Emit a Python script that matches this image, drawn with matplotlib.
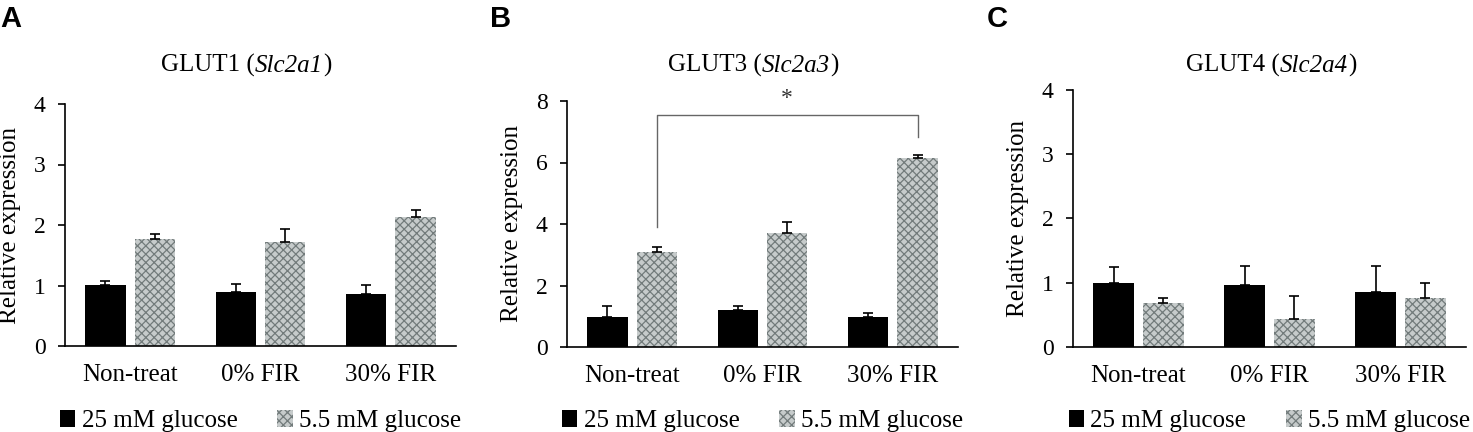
import numpy as np
import matplotlib
matplotlib.use('Agg')
import matplotlib.pyplot as plt

plt.rcParams['font.family'] = 'Liberation Serif'
plt.rcParams['hatch.linewidth'] = 0.9

groups = ['Non-treat', '0% FIR', '30% FIR']
series = ['25 mM glucose', '5.5 mM glucose']

# GLUT1 (Slc2a1)
glut1_high = [1.01, 0.90, 0.86]
glut1_high_err = [0.07, 0.12, 0.15]
glut1_low = [1.77, 1.72, 2.14]
glut1_low_err = [0.08, 0.21, 0.10]

# GLUT3 (Slc2a3)
glut3_high = [0.99, 1.20, 0.99]
glut3_high_err = [0.33, 0.12, 0.11]
glut3_low = [3.08, 3.70, 6.15]
glut3_low_err = [0.16, 0.38, 0.09]

# GLUT4 (Slc2a4)
glut4_high = [0.99, 0.97, 0.85]
glut4_high_err = [0.25, 0.29, 0.41]
glut4_low = [0.68, 0.44, 0.77]
glut4_low_err = [0.09, 0.36, 0.22]

panels = [
    ('A', 'GLUT1', 'Slc2a1', glut1_high, glut1_high_err, glut1_low, glut1_low_err, 4, [0, 1, 2, 3, 4]),
    ('B', 'GLUT3', 'Slc2a3', glut3_high, glut3_high_err, glut3_low, glut3_low_err, 8, [0, 2, 4, 6, 8]),
    ('C', 'GLUT4', 'Slc2a4', glut4_high, glut4_high_err, glut4_low, glut4_low_err, 4, [0, 1, 2, 3, 4]),
]

W, H = 1473, 432
fig = plt.figure(figsize=(W / 100, H / 100), dpi=100)

# axes boxes in pixels: left, right, bottom, top
boxes = [(65, 456, 346, 104), (567, 958, 347, 101), (1073, 1466, 347, 90)]
letter_x = [0, 490, 987]
title_cx = [246, 753, 1271]

x = np.arange(len(groups))
off = 0.19
bw = 0.31
title_parts = []

for i, (letter, prot, gene, hi, hi_err, lo, lo_err, ymax, yt) in enumerate(panels):
    l, r, b, t = boxes[i]
    ax = fig.add_axes([l / W, 1 - b / H, (r - l) / W, (b - t) / H])
    ax.bar(x - off, hi, bw, color='black', label=series[0], zorder=2)
    ax.bar(x + off, lo, bw, color='#c6cbcb', edgecolor='#727b7b', hatch='xxxx',
           linewidth=0, label=series[1], zorder=2)
    ax.errorbar(x - off, hi, yerr=[np.zeros(3), hi_err], fmt='none', ecolor='black',
                elinewidth=1.2, capsize=3.3, capthick=1.2, zorder=3)
    ax.errorbar(x + off, lo, yerr=[np.zeros(3), lo_err], fmt='none', ecolor='black',
                elinewidth=1.2, capsize=3.3, capthick=1.2, zorder=3)

    ax.set_xlim(-0.5, 2.5)
    ax.set_ylim(0, ymax)
    ax.set_yticks(yt)
    ax.set_xticks(x)
    ax.set_xticklabels(groups)
    ax.spines['top'].set_visible(False)
    ax.spines['right'].set_visible(False)
    for s in ['left', 'bottom']:
        ax.spines[s].set_linewidth(1.2)
    ax.tick_params(axis='x', length=0, pad=13, labelsize=18)
    ax.tick_params(axis='y', length=5, width=1.2, pad=9, labelsize=17)
    ax.set_ylabel('Relative expression', fontsize=18)
    ax.yaxis.set_label_coords(-44 / (r - l), 0.5)

    # title: protein name upright, gene name italic
    ty = 1 - 72 / H
    p1 = fig.text(0, ty, prot + ' (', fontsize=18, ha='left', va='baseline')
    p2 = fig.text(0, ty, gene, fontsize=18, style='italic', ha='left', va='baseline')
    p3 = fig.text(0, ty, ')', fontsize=18, ha='left', va='baseline')
    title_parts.append((title_cx[i], [p1, p2, p3]))

    fig.text(letter_x[i] / W, 1 - 19 / H, letter, fontsize=21, fontweight='bold',
             family='Liberation Sans', ha='left', va='center')

    ax.legend(loc='center', bbox_to_anchor=(0.5, (b - 421) / (b - t)), ncol=2,
              frameon=False, fontsize=18, handlelength=0.62, handleheight=0.7,
              handletextpad=0.25, columnspacing=1.6, borderpad=0)

    if letter == 'B':
        # significance bracket between the 5.5 mM bars
        y_br = 7.54
        ax.plot([x[0] + off, x[0] + off, x[2] + off, x[2] + off],
                [3.91, y_br, y_br, 6.84], color='#666666', lw=1.0, zorder=1)
        ax.text((x[0] + x[2]) / 2 + off, 8.07, '*', fontsize=17, color='#333333',
                ha='center', va='center', clip_on=False)

# place the title pieces side by side, centred at the chosen x
fig.canvas.draw()
rend = fig.canvas.get_renderer()
for cx, parts in title_parts:
    widths = [p.get_window_extent(rend).width for p in parts]
    xpos = cx - sum(widths) / 2
    for p, w in zip(parts, widths):
        p.set_x(xpos / W)
        xpos += w

fig.savefig('out.png', dpi=100)
